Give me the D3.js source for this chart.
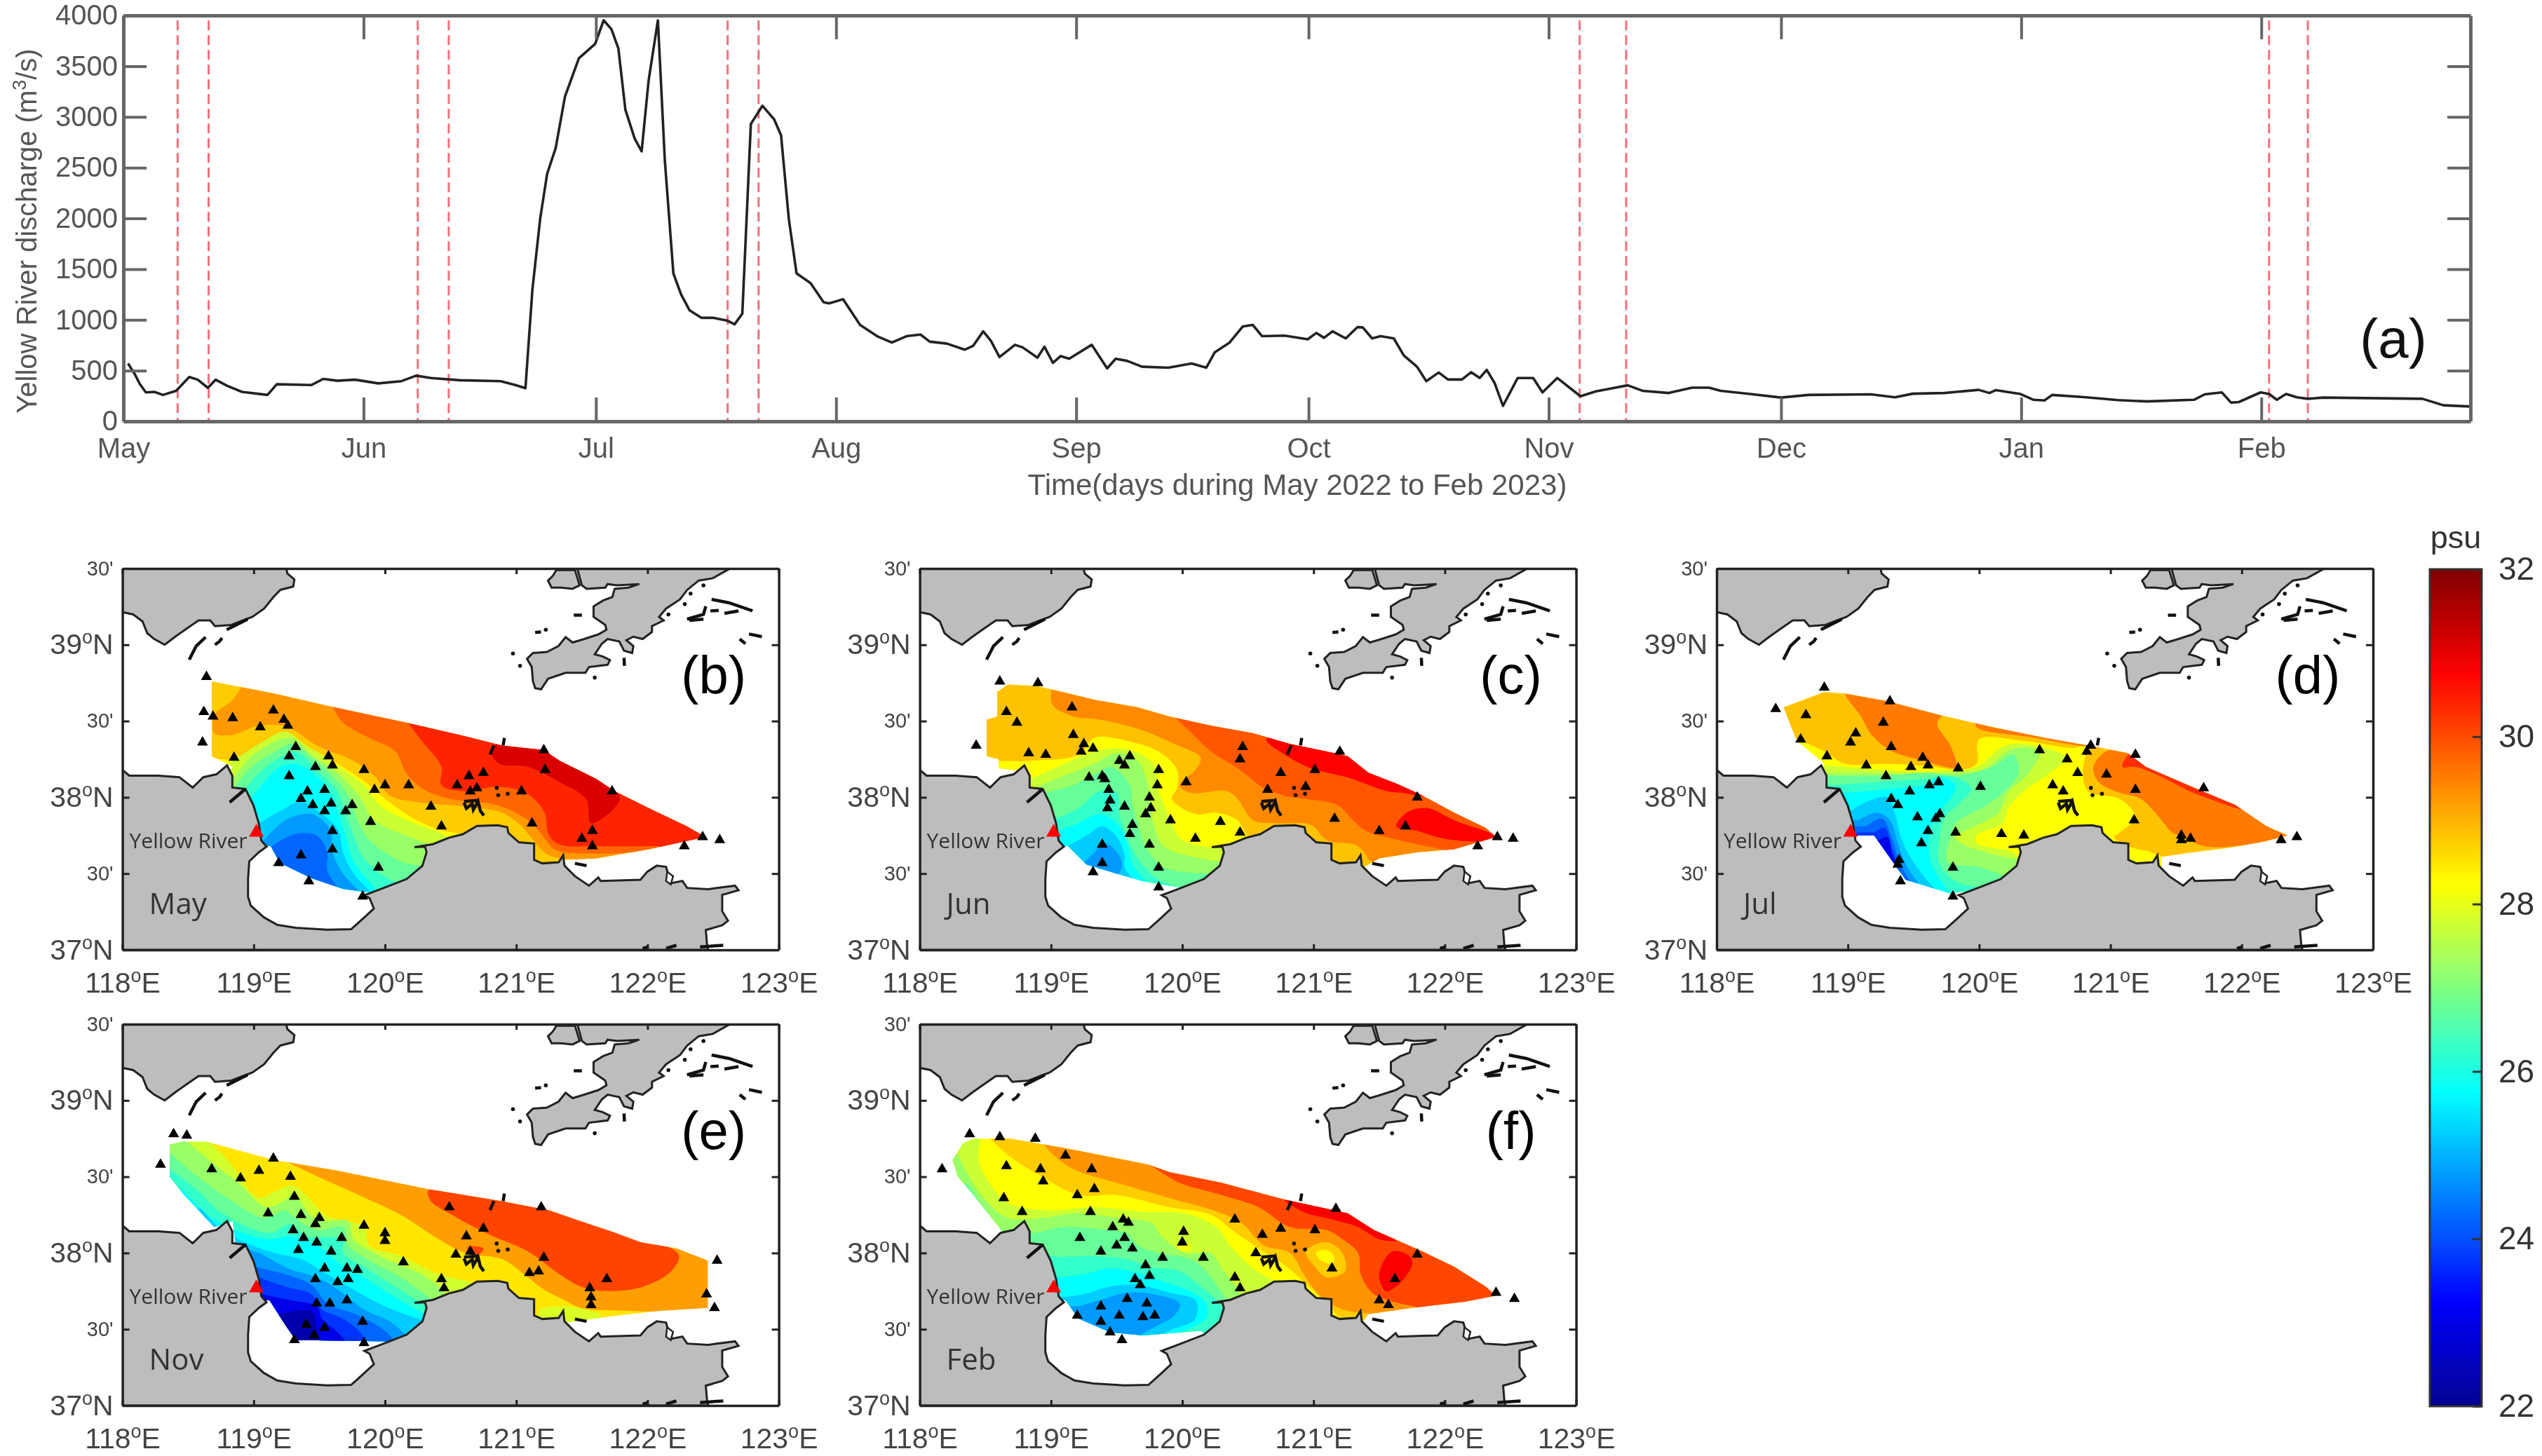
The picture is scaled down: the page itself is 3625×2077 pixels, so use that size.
<!DOCTYPE html>
<html>
<head>
<meta charset="utf-8">
<script src="https://d3js.org/d3.v7.min.js"></script>
<style>
  html, body { margin: 0; padding: 0; background: #fff; }
  text { font-family: "Liberation Sans", Arial, sans-serif; }
</style>
</head>
<body>
<script>
// river discharge: days since 1 May 2022, m3/s
var dischargeDay = [0.6,1.5,2.1,2.9,4,5.1,6.8,8.5,9.6,10.9,11.9,13.4,15.3,18.6,19.8,24.3,25.8,27.6,29.9,32.9,35.9,37.8,39.7,43.4,48.7,50.6,51.9,52.8,53.8,54.7,55.8,57,58.8,60.9,62,63,63.9,64.8,66,66.9,67.8,69,69.9,71,72,73.1,74.6,76.1,78,78.9,79.9,81,82.5,84,84.9,85.9,86.9,88.7,90.4,91.1,92.9,95.1,97.3,99.2,101.1,102.9,104.1,106.3,108.6,109.7,111,112,113.1,115.1,116.1,118,118.9,120,121,122.1,125,127,128.1,129.6,131.5,134.9,137.9,139.8,140.9,142.8,144.5,145.8,147,149.9,152.9,154,155,156.1,157.8,159.3,160,161.2,162.3,164,165.3,167,168.2,169.8,171,172.8,174,175.1,176,177,178.1,180,182,183.2,185.1,188.1,190.1,194.2,196.1,199.5,202.5,204.7,206.2,210,214,217.5,225.6,228.7,231,235.1,239.5,240.9,241.7,244.9,246.6,248,249,253.4,257.5,261.2,267.3,268.7,270.9,272.1,273.1,275.9,277,278,279.2,280.6,282,284,296.8,299.5,303];
var dischargeValue = [570,460,370,285,290,260,300,437,410,330,410,350,290,260,365,358,418,400,410,374,396,450,427,405,396,358,326,1298,1995,2439,2692,3199,3578,3720,3952,3864,3674,3072,2787,2660,3357,3952,2565,1457,1250,1093,1020,1020,991,956,1061,2930,3110,2977,2819,1995,1457,1362,1172,1162,1203,950,839,776,839,855,785,766,706,744,887,792,633,754,728,627,735,576,643,617,754,522,617,595,538,529,570,529,681,776,934,950,839,845,808,871,823,887,817,928,925,817,839,817,649,538,396,481,412,412,484,427,507,380,152,427,427,285,427,247,295,355,301,279,332,332,301,269,234,260,266,237,272,279,310,279,307,269,212,206,260,237,209,196,212,266,285,184,190,285,269,212,269,237,222,234,222,158,146];
var surveyDays = ["2022-05-08","2022-05-12","2022-06-08","2022-06-12","2022-07-18","2022-07-22","2022-11-05","2022-11-11","2023-02-02","2023-02-07"];
var dischargeTicks = [0,500,1000,1500,2000,2500,3000,3500,4000];

var lonTicks = [118,119,120,121,122,123];
var latTicks = [37,37.5,38,38.5,39,39.5];
var salinityTicks = [22,24,26,28,30,32];

// coast, lon/lat
var landNorth = [[119.248,39.5],[119.257,39.467],[119.31,39.428],[119.301,39.382],[119.203,39.36],[119.15,39.313],[119.079,39.237],[118.99,39.183],[118.918,39.16],[118.829,39.13],[118.705,39.122],[118.669,39.16],[118.58,39.16],[118.491,39.107],[118.402,39.053],[118.322,39],[118.242,39.038],[118.189,39.076],[118.153,39.153],[118.082,39.199],[118,39.214],[118,39.5]];
var landLiaodong = [[121.465,39.5],[121.5,39.39],[121.536,39.367],[121.678,39.375],[121.696,39.398],[121.767,39.39],[121.937,39.398],[121.856,39.375],[121.75,39.367],[121.732,39.313],[121.661,39.29],[121.589,39.252],[121.589,39.183],[121.678,39.13],[121.687,39.099],[121.625,39.068],[121.518,39.038],[121.429,39.015],[121.376,39.05],[121.322,38.992],[121.233,38.953],[121.127,38.946],[121.082,38.908],[121.118,38.854],[121.127,38.762],[121.144,38.716],[121.189,38.708],[121.242,38.777],[121.376,38.816],[121.527,38.816],[121.554,38.854],[121.696,38.869],[121.714,38.9],[121.661,38.923],[121.598,38.938],[121.652,39.007],[121.696,39.038],[121.785,39.022],[121.821,38.961],[121.883,38.946],[121.892,38.992],[121.839,39.03],[121.892,39.053],[121.963,39.038],[122.034,39.084],[122.034,39.122],[122.123,39.16],[122.088,39.183],[122.141,39.237],[122.248,39.298],[122.301,39.359],[122.39,39.421],[122.497,39.436],[122.622,39.497],[122.65,39.5]];
var landBay = [[121.242,39.421],[121.278,39.451],[121.305,39.49],[121.447,39.49],[121.483,39.39],[121.429,39.367],[121.34,39.375],[121.269,39.375]];
var landSouth = [[118,38.18],[118.052,38.142],[118.274,38.142],[118.434,38.132],[118.535,38.064],[118.616,38.132],[118.716,38.151],[118.797,38.209],[118.837,38.142],[118.837,38.064],[118.937,38.055],[118.998,37.948],[119.038,37.832],[119.058,37.716],[119.098,37.677],[119.038,37.639],[118.966,37.581],[118.957,37.464],[118.957,37.348],[118.978,37.29],[119.078,37.213],[119.179,37.164],[119.32,37.145],[119.561,37.132],[119.742,37.135],[119.843,37.213],[119.915,37.271],[119.883,37.339],[119.843,37.358],[119.963,37.397],[120.164,37.464],[120.285,37.551],[120.317,37.639],[120.305,37.677],[120.225,37.673],[120.366,37.693],[120.486,37.735],[120.593,37.758],[120.7,37.812],[120.86,37.817],[120.931,37.804],[120.94,37.766],[121.02,37.705],[121.136,37.697],[121.136,37.59],[121.198,37.567],[121.323,37.574],[121.358,37.62],[121.367,37.552],[121.447,37.483],[121.554,37.421],[121.625,37.475],[121.643,37.452],[121.946,37.46],[121.999,37.513],[122.07,37.552],[122.141,37.544],[122.177,37.437],[122.266,37.452],[122.302,37.406],[122.462,37.398],[122.667,37.421],[122.693,37.391],[122.569,37.36],[122.569,37.253],[122.613,37.191],[122.569,37.161],[122.444,37.13],[122.453,37.038],[122.462,37],[118,37]];
var landLagoon = [[122.15,37.513],[122.195,37.483],[122.177,37.429],[122.141,37.452]];
var riverChannel = [[118.937,38.055],[118.817,37.967]];
var riverMouth = [119.02,37.77];
var islets = [
  [[118.634,39.05],[118.562,38.992],[118.509,38.903]],
  [[118.758,39.045],[118.74,39.022],[118.705,39]],
  [[118.794,39.099],[118.954,39.168]],
  [[122.488,39.298],[122.622,39.275],[122.8,39.222]],
  [[122.301,39.168],[122.426,39.199],[122.444,39.252]],
  [[122.319,39.16],[122.426,39.168]],
  [[122.479,39.222],[122.542,39.225]],
  [[122.586,39.206],[122.693,39.222]],
  [[122.702,39.038],[122.746,39.007]],
  [[122.773,39.071],[122.871,39.053]],
  [[121.821,38.915],[121.824,38.862]],
  [[121.438,39.194],[121.5,39.194]],
  [[121.144,39.081],[121.189,39.084]],
  [[120.602,37.973],[120.709,37.98]],
  [[120.602,37.965],[120.62,37.927],[120.664,37.958],[120.673,37.919],[120.709,37.973],[120.726,37.912],[120.753,37.881]],
  [[120.91,38.39],[120.9,38.34]],
  [[120.83,38.34],[120.8,38.28]],
  [[121.447,37.567],[121.536,37.552]],
  [[121.963,37.01],[122.008,37.02]],
  [[122.141,37.01],[122.22,37.03]],
  [[122.4,37.02],[122.577,37.03]]
];
var isletDots = [[121.225,39.099],[120.975,38.943],[121.029,38.862],[121.598,38.785],[122.284,39.267],[122.159,39.199],[122.328,39.336],[122.426,39.39],[120.851,38.062],[120.863,38.014],[120.935,38.023]];

// survey extents, lon/lat
var mayDomain = [[118.68,38.76],[119.16,38.68],[119.56,38.6],[120.16,38.49],[120.61,38.4],[120.89,38.34],[121.21,38.31],[121.33,38.24],[121.61,38.12],[121.75,38.04],[122.03,37.92],[122.3,37.81],[122.44,37.74],[122.01,37.66],[121.61,37.6],[121.37,37.59],[121.33,37.54],[121.09,37.54],[120.28,37.37],[119.84,37.38],[119.68,37.4],[119.44,37.47],[119.2,37.57],[119.13,37.68],[118.96,37.68],[118.8,38.14],[118.84,38.2],[118.68,38.27]];
var junDomain = [[118.59,38.69],[118.67,38.74],[118.89,38.73],[119.09,38.69],[119.33,38.64],[119.66,38.59],[119.9,38.53],[120.22,38.47],[120.54,38.42],[120.82,38.35],[121.1,38.3],[121.26,38.27],[121.42,38.16],[121.63,38.09],[121.81,38.02],[122.07,37.9],[122.31,37.8],[122.39,37.74],[122.07,37.66],[121.79,37.64],[121.5,37.6],[121.34,37.52],[121.1,37.52],[120.3,37.37],[119.9,37.42],[119.7,37.45],[119.5,37.5],[119.27,37.56],[119.13,37.68],[118.97,37.68],[118.79,38.14],[118.77,38.17],[118.6,38.19],[118.6,38.25],[118.51,38.27],[118.51,38.51],[118.59,38.53]];
var julDomain = [[118.51,38.59],[118.82,38.69],[118.98,38.68],[119.3,38.63],[119.7,38.54],[120.1,38.46],[120.5,38.39],[120.83,38.34],[121.13,38.29],[121.27,38.2],[121.59,38.08],[121.95,37.95],[122.19,37.81],[122.35,37.75],[122.17,37.71],[121.91,37.67],[121.63,37.64],[121.39,37.61],[121.39,37.52],[121.23,37.52],[120.42,37.36],[119.94,37.39],[119.78,37.37],[119.44,37.46],[119.34,37.58],[119.2,37.75],[119.02,37.75],[118.8,38.14],[118.82,38.22],[118.61,38.37]];
var novDomain = [[118.36,38.71],[118.45,38.73],[118.64,38.73],[119.16,38.61],[119.64,38.54],[120.32,38.42],[120.89,38.34],[121.25,38.28],[121.45,38.22],[121.73,38.14],[121.95,38.07],[122.22,38.03],[122.46,37.95],[122.46,37.64],[122.09,37.62],[121.69,37.58],[121.33,37.54],[121.25,37.46],[120.28,37.4],[120,37.42],[119.32,37.43],[119.24,37.53],[119.12,37.69],[118.96,37.69],[118.86,38.07],[118.84,38.21],[118.7,38.17],[118.58,38.28],[118.47,38.38],[118.36,38.5]];
var febDomain = [[118.33,38.72],[118.41,38.75],[118.69,38.75],[119.09,38.69],[119.33,38.65],[119.74,38.58],[119.9,38.53],[120.3,38.46],[120.78,38.35],[121.1,38.29],[121.26,38.26],[121.46,38.15],[121.83,38.01],[122.07,37.91],[122.31,37.78],[122.39,37.72],[122.15,37.68],[121.75,37.64],[121.42,37.6],[121.34,37.51],[121.1,37.51],[120.3,37.4],[120.14,37.49],[119.7,37.46],[119.45,37.48],[119.21,37.57],[119.11,37.69],[118.97,37.69],[118.81,38.15],[118.63,38.14],[118.41,38.38],[118.29,38.5],[118.25,38.61]];

// salinity bands: [psu, side, contour]. "l" fills the fresh side, "h" the salty side, "o" a closed patch
var mayBands = [
  [27.75,"l",[[118.8,38.2],[118.88,38.28],[119.08,38.39],[119.24,38.45],[119.48,38.3],[119.68,38.18],[119.84,38.08],[119.96,37.95],[120.12,37.87],[120.41,37.77],[120.49,37.74]]],
  [27.25,"l",[[118.86,38.14],[119,38.28],[119.28,38.39],[119.44,38.28],[119.64,38.16],[119.8,38.01],[119.92,37.85],[120.16,37.75],[120.35,37.69]]],
  [26.75,"l",[[118.86,38.07],[118.96,38.18],[119.16,38.3],[119.3,38.35],[119.44,38.26],[119.6,38.14],[119.72,38.01],[119.8,37.83],[119.88,37.72],[120.12,37.58],[120.28,37.55]]],
  [26.25,"l",[[118.92,38.03],[119.04,38.16],[119.2,38.26],[119.32,38.3],[119.48,38.18],[119.64,38.04],[119.68,37.95],[119.76,37.75],[119.84,37.6],[120.04,37.46],[120.16,37.43]]],
  [25.75,"l",[[118.96,37.97],[119.08,38.1],[119.2,38.2],[119.32,38.22],[119.48,38.14],[119.6,38.01],[119.64,37.91],[119.7,37.75],[119.76,37.58],[119.92,37.41]]],
  [25.25,"l",[[119.04,37.83],[119.2,37.91],[119.36,37.97],[119.52,37.89],[119.64,37.79],[119.68,37.64],[119.76,37.5],[119.88,37.39]]],
  [24.75,"l",[[119.08,37.72],[119.24,37.85],[119.44,37.89],[119.58,37.79],[119.6,37.64],[119.68,37.5],[119.8,37.39]]],
  [24.25,"l",[[119.14,37.68],[119.32,37.76],[119.48,37.75],[119.56,37.64],[119.56,37.52],[119.64,37.41]]],
  [28.75,"h",[[118.68,38.26],[118.84,38.25],[119.04,38.35],[119.24,38.43],[119.4,38.34],[119.64,38.22],[119.88,38.08],[120,37.99],[120.24,37.85],[120.45,37.78],[120.61,37.76]]],
  [29.25,"h",[[118.94,38.78],[118.84,38.64],[118.7,38.54],[118.7,38.42],[118.84,38.41],[119.04,38.47],[119.26,38.46],[119.48,38.34],[119.76,38.24],[119.92,38.14],[120.04,38.01],[120.24,37.97],[120.61,37.94],[120.89,37.9],[121.03,37.82],[121.11,37.74],[121.25,37.62],[121.65,37.58]]],
  [29.75,"h",[[119.58,38.63],[119.68,38.49],[119.88,38.39],[120.08,38.3],[120.16,38.16],[120.28,38.06],[120.49,37.99],[120.85,37.95],[121.09,37.85],[121.21,37.74],[121.29,37.66],[121.61,37.63],[122.05,37.65]]],
  [30.4,"h",[[120.16,38.51],[120.28,38.37],[120.43,38.2],[120.43,38.08],[120.61,38.04],[120.85,38.07],[121.07,38.03],[121.21,37.91],[121.25,37.75],[121.33,37.69],[121.61,37.68],[122.09,37.68]]],
  [31.1,"o",[[120.81,38.3],[120.87,38.22],[121.09,38.2],[121.33,38.1],[121.53,37.99],[121.57,37.83],[121.79,37.99],[121.61,38.14],[121.33,38.26],[121.17,38.34],[120.89,38.37]]]
];
var junBands = [
  [27.75,"l",[[118.87,38.13],[119.05,38.2],[119.37,38.31],[119.6,38.31],[119.78,38.22],[119.82,38.04],[119.86,37.95],[119.92,37.83],[120,37.72],[120.26,37.67],[120.34,37.68]]],
  [27.25,"l",[[118.87,38.06],[119.09,38.14],[119.33,38.22],[119.5,38.29],[119.66,38.24],[119.74,38.08],[119.76,37.95],[119.78,37.83],[119.86,37.68],[120.14,37.6],[120.3,37.58]]],
  [26.75,"l",[[118.95,38.03],[119.17,38.08],[119.35,38.16],[119.46,38.2],[119.6,38.08],[119.62,37.95],[119.66,37.83],[119.72,37.68],[119.86,37.54],[120.22,37.5]]],
  [26.25,"l",[[119.01,37.85],[119.21,37.93],[119.37,38.04],[119.5,38.03],[119.52,37.89],[119.58,37.74],[119.66,37.6],[119.82,37.46],[120,37.41]]],
  [25.75,"l",[[119.05,37.78],[119.21,37.83],[119.37,37.89],[119.5,37.83],[119.58,37.7],[119.62,37.56],[119.76,37.42]]],
  [25.25,"l",[[119.13,37.68],[119.27,37.75],[119.39,37.81],[119.5,37.74],[119.56,37.62],[119.56,37.54],[119.66,37.44]]],
  [24.75,"l",[[119.25,37.57],[119.33,37.64],[119.41,37.7],[119.52,37.62],[119.54,37.54],[119.5,37.48]]],
  [28.85,"h",[[118.45,38.25],[118.6,38.24],[118.85,38.24],[119.21,38.28],[119.33,38.39],[119.58,38.37],[119.82,38.3],[119.96,38.18],[119.96,38.06],[119.92,37.99],[120.1,37.89],[120.26,37.9],[120.42,37.85],[120.5,37.75],[120.62,37.75]]],
  [29.4,"h",[[119.01,38.74],[119.01,38.61],[119.17,38.53],[119.37,38.51],[119.66,38.45],[119.94,38.35],[120.14,38.26],[120.1,38.18],[119.98,38.08],[120.06,38.03],[120.34,38.04],[120.42,37.99],[120.54,37.85],[120.74,37.83],[120.98,37.82],[121.1,37.72],[121.34,37.68],[121.42,37.59]]],
  [29.9,"h",[[119.9,38.56],[120.06,38.43],[120.22,38.3],[120.44,38.18],[120.62,38.06],[120.78,38.01],[120.94,37.99],[121.18,37.95],[121.3,37.85],[121.4,37.78],[121.6,37.73],[122.03,37.65]]],
  [30.75,"o",[[120.64,38.38],[120.78,38.28],[120.98,38.19],[121.26,38.13],[121.56,38.04],[121.67,38.03],[121.87,38.01],[121.5,38.22],[121.26,38.35],[120.9,38.43]]],
  [30.75,"o",[[121.63,37.81],[121.71,37.9],[121.87,37.93],[122.07,37.85],[122.43,37.73],[122.27,37.71],[121.99,37.73],[121.79,37.78]]]
];
var julBands = [
  [27.75,"l",[[118.82,38.21],[119.1,38.19],[119.46,38.17],[119.78,38.18],[119.98,38.2],[120.2,38.34],[120.42,38.34],[120.66,38.26],[120.54,38.16],[120.34,38.04],[120.22,37.93],[120.18,37.83],[119.98,37.75],[119.98,37.7],[120.26,37.64],[120.32,37.59]]],
  [27.25,"l",[[118.84,38.16],[119.14,38.16],[119.46,38.15],[119.78,38.16],[120.02,38.18],[120.26,38.32],[120.46,38.3],[120.38,38.16],[120.22,38.03],[120.14,37.89],[119.94,37.8],[119.82,37.74],[119.86,37.7],[120.14,37.62],[120.32,37.59]]],
  [26.75,"l",[[118.86,38.14],[119.22,38.14],[119.62,38.16],[119.82,38.14],[120.1,38.2],[120.26,38.28],[120.3,38.16],[120.18,38.03],[120.06,37.95],[119.82,37.83],[119.78,37.74],[119.76,37.58],[120.02,37.54],[120.2,37.48]]],
  [26.25,"l",[[118.88,38.08],[119.22,38.1],[119.58,38.12],[119.78,38.14],[119.94,38.06],[119.86,37.97],[119.74,37.87],[119.7,37.75],[119.7,37.56],[119.82,37.45],[119.98,37.41]]],
  [25.75,"l",[[118.98,38.03],[119.14,38.04],[119.38,38.06],[119.58,38.08],[119.7,38.13],[119.82,38.08],[119.78,37.99],[119.68,37.89],[119.62,37.75],[119.64,37.56],[119.78,37.37]]],
  [25.25,"l",[[119.02,37.91],[119.14,37.97],[119.3,38],[119.36,37.89],[119.4,37.75],[119.48,37.6],[119.62,37.44],[119.7,37.37]]],
  [24.75,"l",[[119.08,37.85],[119.22,37.9],[119.32,37.85],[119.38,37.7],[119.44,37.56],[119.58,37.39]]],
  [24.25,"l",[[119.14,37.81],[119.26,37.86],[119.34,37.72],[119.4,37.56],[119.5,37.42]]],
  [23.75,"l",[[119.2,37.77],[119.28,37.8],[119.34,37.66],[119.4,37.5],[119.42,37.45]]],
  [23,"l",[[119.24,37.72],[119.3,37.74],[119.34,37.62],[119.38,37.53]]],
  [28.85,"o",[[118.49,38.59],[118.57,38.41],[118.7,38.35],[118.82,38.3],[118.98,38.22],[119.3,38.22],[119.66,38.2],[119.86,38.18],[119.98,38.22],[120,38.38],[120.34,38.37],[120.78,38.34],[120.78,38.49],[119.7,38.61],[118.98,38.74],[118.74,38.72]]],
  [28.85,"h",[[120.85,38.37],[120.79,38.18],[120.83,38.04],[121.07,37.99],[121.19,37.87],[121.07,37.77],[121.03,37.74],[121.13,37.68],[121.31,37.64],[121.47,37.58]]],
  [29.55,"o",[[118.98,38.69],[119.1,38.53],[119.18,38.41],[119.34,38.3],[119.58,38.24],[119.82,38.2],[119.78,38.34],[119.68,38.48],[119.72,38.56],[119.22,38.67]]],
  [29.55,"o",[[120.99,38.31],[120.87,38.2],[120.91,38.1],[121.07,38.03],[121.23,37.99],[121.35,37.89],[121.47,37.77],[121.55,37.74],[121.71,37.68],[121.95,37.68],[122.39,37.75],[122.03,37.99],[121.43,38.24]]],
  [29.55,"o",[[119.98,38.51],[120.83,38.38],[121.13,38.31],[120.83,38.33],[120.42,38.39],[119.98,38.46]]],
  [30.3,"o",[[121.09,38.2],[121.17,38.3],[121.35,38.23],[121.71,38.07],[122.01,37.92],[121.63,38.03],[121.35,38.15],[121.19,38.2]]]
];
var novBands = [
  [27.8,"l",[[118.66,38.73],[118.8,38.61],[119.04,38.36],[119.16,38.4],[119.3,38.44],[119.48,38.3],[119.56,38.24],[119.84,38.17],[119.88,38.05],[120.12,37.98],[120.41,37.86],[120.65,37.81],[120.77,37.78]]],
  [27.25,"l",[[118.47,38.75],[118.66,38.61],[118.88,38.46],[119.1,38.3],[119.26,38.36],[119.3,38.4],[119.42,38.26],[119.52,38.21],[119.72,38.21],[119.76,38.09],[119.96,37.98],[120.28,37.86],[120.45,37.75]]],
  [26.75,"l",[[118.37,38.65],[118.56,38.51],[118.8,38.36],[119.08,38.23],[119.24,38.28],[119.3,38.24],[119.48,38.15],[119.68,38.17],[119.72,38.05],[119.88,37.95],[120.12,37.84],[120.35,37.7]]],
  [26.25,"l",[[118.36,38.55],[118.56,38.42],[118.76,38.26],[119.12,38.13],[119.28,38.19],[119.4,38.11],[119.68,38.09],[119.68,38],[119.84,37.91],[120.04,37.8],[120.32,37.65]]],
  [25.75,"l",[[118.45,38.42],[118.68,38.23],[118.86,38.15],[119.12,38.09],[119.28,38.11],[119.52,38.03],[119.64,37.94],[119.84,37.84],[120.04,37.73],[120.3,37.6]]],
  [25.25,"l",[[118.6,38.29],[118.72,38.18],[118.88,38.09],[119.16,38],[119.36,37.96],[119.56,37.86],[119.76,37.76],[120,37.65],[120.28,37.56]]],
  [24.75,"l",[[118.86,38.05],[119.04,38],[119.26,37.9],[119.48,37.84],[119.64,37.76],[119.84,37.63],[120.04,37.55],[120.16,37.46]]],
  [24.25,"l",[[119,37.91],[119.24,37.86],[119.44,37.79],[119.56,37.67],[119.8,37.59],[120,37.49],[120.08,37.42]]],
  [23.75,"l",[[119.04,37.84],[119.24,37.78],[119.44,37.73],[119.52,37.63],[119.68,37.57],[119.8,37.49],[119.88,37.4]]],
  [23,"l",[[119.06,37.73],[119.28,37.69],[119.48,37.65],[119.52,37.57],[119.64,37.48],[119.72,37.4]]],
  [22.3,"l",[[119.2,37.6],[119.44,37.62],[119.48,37.51],[119.52,37.4]]],
  [27.9,"o",[[121.17,37.62],[121.37,37.65],[121.65,37.59],[121.49,37.53],[121.23,37.53]]],
  [29.2,"h",[[119.16,38.64],[119.44,38.52],[119.8,38.38],[120.12,38.25],[120.41,38.09],[120.61,38],[120.89,37.96],[121.09,37.84],[121.21,37.76],[121.37,37.69],[121.49,37.64],[121.85,37.62],[122.25,37.61]]],
  [30.08,"o",[[120.33,38.41],[120.35,38.34],[120.49,38.26],[120.77,38.13],[121.09,38.01],[121.33,37.86],[121.49,37.78],[121.69,37.75],[121.97,37.78],[122.18,37.88],[122.24,37.98],[122.16,38.04],[121.89,38.1],[121.49,38.23],[121.25,38.3],[120.89,38.37]]],
  [30.08,"o",[[120.63,38.04],[120.75,38.03],[120.73,38],[120.65,37.99]]]
];
var febBands = [
  [27.75,"l",[[118.47,38.77],[118.45,38.61],[118.53,38.46],[118.69,38.32],[119.01,38.28],[119.33,38.3],[119.7,38.27],[120.02,38.26],[120.26,38.17],[120.38,38.03],[120.54,37.9],[120.72,37.81]]],
  [27.25,"l",[[118.29,38.65],[118.37,38.51],[118.49,38.36],[118.67,38.23],[118.93,38.23],[119.21,38.26],[119.5,38.23],[119.78,38.19],[119.82,38.13],[120.02,38],[120.22,38],[120.3,37.9],[120.44,37.75]]],
  [26.75,"l",[[118.37,38.45],[118.49,38.3],[118.63,38.15],[118.85,38.13],[119.09,38.17],[119.45,38.15],[119.58,38.13],[119.66,38.05],[119.82,38],[120.06,37.96],[120.18,37.88],[120.3,37.74],[120.34,37.69]]],
  [26.25,"l",[[118.89,38.03],[119.01,37.98],[119.29,37.98],[119.58,37.96],[119.74,37.91],[119.98,37.88],[120.14,37.78],[120.26,37.69],[120.32,37.62]]],
  [25.75,"l",[[119.05,37.84],[119.25,37.86],[119.45,37.9],[119.66,37.87],[119.86,37.81],[120.06,37.75],[120.18,37.67],[120.18,37.57],[119.98,37.48]]],
  [25.25,"l",[[119.09,37.71],[119.25,37.73],[119.45,37.78],[119.66,37.79],[119.9,37.74],[120.1,37.69],[120.1,37.57],[119.9,37.49],[119.82,37.45]]],
  [24.75,"l",[[119.21,37.65],[119.37,37.69],[119.58,37.74],[119.78,37.73],[119.98,37.67],[119.94,37.59],[119.78,37.51],[119.66,37.45]]],
  [28.1,"o",[[119.98,38.07],[120.08,38.05],[120.04,38.01],[119.96,38.03]]],
  [28.75,"h",[[118.51,38.77],[118.69,38.63],[118.93,38.5],[119.21,38.38],[119.5,38.38],[119.9,38.3],[120.22,38.25],[120.38,38.15],[120.58,38.03],[120.78,37.92],[120.94,37.8],[121.1,37.67],[121.18,37.59]]],
  [29.3,"h",[[118.89,38.77],[119.01,38.65],[119.17,38.55],[119.5,38.46],[119.9,38.36],[120.3,38.26],[120.46,38.19],[120.62,38.05],[120.82,38],[120.94,37.84],[121.06,37.71],[121.22,37.63],[121.46,37.6]]],
  [28.75,"o",[[120.94,38.01],[121.1,38.07],[121.22,38],[121.24,37.88],[121.1,37.84],[121,37.92]]],
  [28.25,"o",[[121.02,38],[121.1,38.02],[121.16,37.97],[121.14,37.93],[121.06,37.95]]],
  [30.05,"h",[[119.7,38.61],[119.98,38.46],[120.3,38.38],[120.58,38.3],[120.82,38.17],[121.1,38.15],[121.22,38.09],[121.34,38],[121.36,37.86],[121.46,37.73],[121.77,37.65]]],
  [30.8,"o",[[120.78,38.35],[120.92,38.27],[121.14,38.22],[121.34,38.17],[121.5,38.09],[121.63,38.08],[121.46,38.17],[121.26,38.27],[121.1,38.31]]],
  [30.8,"o",[[121.5,37.84],[121.52,37.92],[121.6,38.01],[121.73,37.98],[121.75,37.92],[121.63,37.78],[121.55,37.75]]],
  [30.8,"o",[[122.11,37.67],[122.35,37.7],[122.45,37.71],[122.31,37.67]]]
];

// sampling stations, lon/lat
var mayStations = [[118.64,38.79],[118.62,38.56],[118.69,38.53],[118.84,38.52],[119.05,38.46],[119.15,38.57],[119.23,38.51],[119.26,38.47],[118.61,38.36],[118.85,38.26],[119.32,38.33],[119.27,38.27],[119.57,38.27],[119.47,38.2],[119.6,38.21],[119.84,38.18],[119.27,38.14],[119.41,38.04],[119.54,38.05],[119.92,38.05],[120,38.08],[120.18,38.08],[120.55,38.08],[120.64,38.14],[120.75,38.16],[120.65,38.04],[120.7,38.06],[119.36,37.99],[119.45,37.95],[119.59,37.96],[119.75,37.95],[119.54,37.91],[119.7,37.91],[119.89,37.84],[120.35,37.94],[120.43,37.81],[119.6,37.78],[119.6,37.66],[119.36,37.62],[119.19,37.57],[119.95,37.54],[119.42,37.45],[119.83,37.35],[121.21,38.31],[121.22,38.18],[121.04,38.04],[121.12,37.83],[121.58,37.78],[121.5,37.73],[121.58,37.68],[121.73,38.04],[122.42,37.74],[122.55,37.72],[122.28,37.68]];
var junStations = [[118.61,38.76],[118.9,38.75],[119.16,38.59],[118.66,38.56],[118.74,38.49],[118.43,38.34],[119.17,38.41],[119.25,38.35],[119.32,38.32],[119.23,38.3],[118.83,38.29],[118.96,38.28],[119.6,38.27],[119.52,38.24],[119.56,38.21],[119.82,38.18],[119.29,38.13],[119.39,38.14],[119.41,38.12],[119.44,38.05],[119.45,37.98],[119.43,37.93],[119.56,37.94],[119.75,38],[119.81,38.08],[119.76,37.93],[119.72,37.89],[119.91,37.85],[119.62,37.82],[119.6,37.76],[120.1,37.73],[120.29,37.84],[120.44,37.77],[119.75,37.69],[119.39,37.69],[119.39,37.57],[119.32,37.51],[119.82,37.54],[119.82,37.41],[120.46,38.33],[120.44,38.25],[120.75,38.16],[121.01,38.18],[120.94,38.07],[120.65,38.05],[120.03,38.1],[121.2,38.3],[121.16,37.86],[121.5,37.78],[121.7,37.81],[121.79,38],[122.25,37.68],[122.4,37.74],[122.52,37.73]];
var julStations = [[118.82,38.72],[118.45,38.58],[119.32,38.63],[118.68,38.54],[119.27,38.49],[119.06,38.42],[119.02,38.36],[118.64,38.38],[119.33,38.33],[118.84,38.27],[119.14,38.21],[119.57,38.26],[119.48,38.2],[119.61,38.21],[119.84,38.19],[119.29,38.14],[119.69,38.1],[119.62,38.08],[119.47,38.04],[120.01,38.07],[119.33,37.99],[119.38,37.95],[119.53,37.87],[119.67,37.86],[119.7,37.89],[119.61,37.78],[119.56,37.7],[119.82,37.77],[120.17,37.76],[120.34,37.75],[119.39,37.59],[119.38,37.56],[119.8,37.54],[119.4,37.45],[120.46,38.31],[120.67,38.25],[120.75,38.16],[120.56,38.08],[120.64,38.04],[120.97,38.15],[121.19,38.05],[121.19,38.28],[120.82,38.3],[120.85,38.34],[121.18,37.85],[121.54,37.75],[121.54,37.72],[121.61,37.73],[121.71,38.06],[122.3,37.72],[122.42,37.74],[119.8,37.35]];
var novStations = [[118.39,38.78],[118.49,38.77],[118.29,38.58],[118.68,38.55],[118.9,38.49],[119.04,38.54],[119.15,38.62],[119.28,38.5],[119.31,38.37],[119.11,38.26],[119.36,38.25],[119.5,38.23],[119.47,38.19],[119.3,38.15],[119.84,38.18],[120,38.13],[120,38.08],[119.38,38.1],[119.48,38.07],[119.67,38.1],[119.34,38.02],[119.59,38.01],[120.14,37.94],[119.54,37.9],[119.71,37.9],[119.79,37.89],[119.47,37.83],[119.64,37.81],[119.72,37.83],[120.43,37.83],[120.45,37.77],[120.49,38.3],[120.62,38.11],[120.75,38.16],[120.65,38.01],[120.54,37.99],[121.19,38.3],[121.21,37.97],[121.1,37.87],[121.17,37.88],[121.69,37.83],[121.56,37.77],[121.57,37.71],[121.57,37.66],[122.45,37.73],[122.51,37.64],[122.53,37.95],[119.48,37.67],[119.58,37.67],[119.71,37.69],[119.83,37.55],[119.4,37.53],[119.54,37.51],[119.31,37.43],[119.46,37.46],[119.84,37.41]];
var febStations = [[118.38,38.78],[118.61,38.76],[118.88,38.75],[119.11,38.64],[119.31,38.55],[118.66,38.57],[118.92,38.55],[118.94,38.47],[118.17,38.55],[119.33,38.42],[119.2,38.38],[118.64,38.36],[118.78,38.27],[119.3,38.27],[120.4,38.22],[119.55,38.22],[119.59,38.2],[119.47,38.17],[120.01,38.14],[120,38.07],[119.22,38.1],[119.56,38.1],[119.5,38.05],[119.62,38.03],[119.38,38.01],[119.85,37.97],[120.16,37.97],[119.72,37.92],[119.75,37.85],[119.64,37.83],[119.68,37.79],[120.4,37.84],[120.44,37.77],[120.61,38.12],[120.75,38.16],[121.01,38.15],[121.17,38.29],[120.56,38],[121.14,37.9],[121.62,37.83],[121.79,37.99],[121.5,37.69],[121.57,37.66],[122.39,37.74],[122.53,37.7],[119.58,37.7],[119.73,37.67],[119.38,37.65],[119.2,37.59],[119.38,37.55],[119.52,37.59],[119.7,37.58],[119.79,37.59],[119.45,37.48],[119.54,37.43]];

var panels = [
  {tag:"(b)", month:"May", base:28.25, left:174.6, top:811, domain:mayDomain, bands:mayBands, stations:mayStations},
  {tag:"(c)", month:"Jun", base:28.25, left:1311.6, top:811, domain:junDomain, bands:junBands, stations:junStations},
  {tag:"(d)", month:"Jul", base:28.25, left:2448, top:811, domain:julDomain, bands:julBands, stations:julStations},
  {tag:"(e)", month:"Nov", base:28.5, left:174.6, top:1461, domain:novDomain, bands:novBands, stations:novStations},
  {tag:"(f)", month:"Feb", base:28.25, left:1311.6, top:1461, domain:febDomain, bands:febBands, stations:febStations}
];

var width = 3625, height = 2077;
var svg = d3.select("body").append("svg")
    .attr("width", width)
    .attr("height", height)
    .style("display", "block")
    .style("filter", "blur(0.6px)");

// jet, same stops as the colourbar
var jet = d3.scaleLinear()
    .domain([22,23.25,25.75,28.25,30.75,32])
    .range(["#00008f","#0000ff","#00ffff","#ffff00","#ff0000","#800000"])
    .clamp(true);

// ---- (a) discharge ----
var start = Date.UTC(2022,4,1), dayMs = 86400000;
var a = svg.append("g").attr("transform", "translate(176,22)");
var aw = 3347, ah = 579;
var x = d3.scaleUtc().domain([new Date(start), new Date(start + 303*dayMs)]).range([0, aw]);
var y = d3.scaleLinear().domain([0,4000]).range([ah,0]);
var months = d3.utcMonth.range(new Date(start), new Date(start + 303*dayMs));

a.selectAll("line.survey")
    .data(surveyDays)
  .enter().append("line")
    .attr("class", "survey")
    .attr("x1", function(d) { return x(new Date(d + "T00:00:00Z")); })
    .attr("x2", function(d) { return x(new Date(d + "T00:00:00Z")); })
    .attr("y1", y(3950))
    .attr("y2", ah)
    .attr("stroke", "#f2707c")
    .attr("stroke-width", 3)
    .attr("stroke-dasharray", "14,7");

a.append("path")
    .attr("d", d3.line()
      .x(function(d, i) { return x(new Date(start + d*dayMs)); })
      .y(function(d, i) { return y(dischargeValue[i]); })(dischargeDay))
    .attr("fill", "none")
    .attr("stroke", "#222")
    .attr("stroke-width", 3.6)
    .attr("stroke-linejoin", "round");

function styleAxis(g, size, color) {
  g.selectAll("text").attr("font-size", size).attr("fill", color);
  g.selectAll("line").attr("stroke", "#666").attr("stroke-width", 4);
  g.select(".domain").attr("stroke", "#666").attr("stroke-width", 5);
}
var mf = d3.utcFormat("%b");
a.append("g").attr("transform", "translate(0," + ah + ")")
    .call(d3.axisBottom(x).tickValues(months).tickFormat(mf).tickSizeInner(-34).tickSizeOuter(0).tickPadding(24))
    .call(styleAxis, 40, "#555");
a.append("g")
    .call(d3.axisTop(x).tickValues(months).tickFormat("").tickSizeInner(-34).tickSizeOuter(0))
    .call(styleAxis, 40, "#555");
a.append("g")
    .call(d3.axisLeft(y).tickValues(dischargeTicks).tickSizeInner(-33).tickSizeOuter(0).tickPadding(8).tickFormat(d3.format("d")))
    .call(styleAxis, 40, "#555");
a.append("g").attr("transform", "translate(" + aw + ",0)")
    .call(d3.axisRight(y).tickValues(dischargeTicks).tickFormat("").tickSizeInner(-33).tickSizeOuter(0))
    .call(styleAxis, 40, "#555");

var yl = a.append("text")
    .attr("transform", "translate(-124," + (ah/2 + 18) + ") rotate(-90)")
    .attr("text-anchor", "middle")
    .attr("font-size", 40)
    .attr("fill", "#555");
yl.append("tspan").text("Yellow River discharge (m");
yl.append("tspan").attr("baseline-shift", "super").attr("font-size", 27).text("3");
yl.append("tspan").text("/s)");

a.append("text")
    .attr("x", 1674).attr("y", 684)
    .attr("text-anchor", "middle")
    .attr("font-size", 42)
    .attr("fill", "#555")
    .text("Time(days during May 2022 to Feb 2023)");

a.append("text")
    .attr("x", 3237).attr("y", 488)
    .attr("text-anchor", "middle")
    .attr("font-size", 78)
    .attr("fill", "#111")
    .text("(a)");

// ---- salinity maps ----
var pw = 936, ph = 544;
var lon = d3.scaleLinear().domain([118,123]).range([0,pw]);
var lat = d3.scaleLinear().domain([37,39.5]).range([ph,0]);
var plain = d3.line().x(function(d) { return lon(d[0]); }).y(function(d) { return lat(d[1]); });
var smooth = d3.line().x(function(d) { return lon(d[0]); }).y(function(d) { return lat(d[1]); }).curve(d3.curveCatmullRom);
var smoothLoop = d3.line().x(function(d) { return lon(d[0]); }).y(function(d) { return lat(d[1]); }).curve(d3.curveCatmullRomClosed);

function pt(p) { return "L" + lon(p[0]) + "," + lat(p[1]); }

function bandPath(b) {
  var pts = b[2], first = pts[0], last = pts[pts.length - 1];
  if (b[1] == "o") return smoothLoop(pts);
  if (b[1] == "l") return smooth(pts) + pt([last[0],36.5]) + pt([117,36.5]) + pt([117,first[1]]) + "Z";
  return smooth(pts) + pt([123.5,36.5]) + pt([123.5,40]) + pt([first[0],40]) + "Z";
}

function degreeLabel(sel, letter) {
  sel.selectAll("text").each(function(d) {
    var t = d3.select(this).text(null);
    t.append("tspan").text(d);
    t.append("tspan").attr("baseline-shift", "super").attr("font-size", 27).text("o");
    t.append("tspan").text(letter);
  });
}

function drawPanel(p, i) {
  var g = svg.append("g").attr("transform", "translate(" + p.left + "," + p.top + ")");
  var clipId = "sea" + i, frameId = "frame" + i;

  svg.append("clipPath").attr("id", clipId).append("path").attr("d", plain(p.domain) + "Z");
  svg.append("clipPath").attr("id", frameId).append("rect").attr("width", pw).attr("height", ph);

  var inner = g.append("g").attr("clip-path", "url(#" + frameId + ")");
  var field = inner.append("g").attr("clip-path", "url(#" + clipId + ")");

  field.append("path").attr("d", plain(p.domain) + "Z").attr("fill", jet(p.base));
  field.selectAll("path.band")
      .data(p.bands)
    .enter().append("path")
      .attr("class", "band")
      .attr("d", bandPath)
      .attr("fill", function(d) { return jet(d[0]); });

  inner.selectAll("path.land")
      .data([landNorth, landLiaodong, landBay, landSouth])
    .enter().append("path")
      .attr("class", "land")
      .attr("d", function(d) { return plain(d) + "Z"; })
      .attr("fill", "#bdbdbd")
      .attr("stroke", "#222")
      .attr("stroke-width", 3);

  inner.append("path")
      .attr("d", plain(landLagoon) + "Z")
      .attr("fill", "#fff")
      .attr("stroke", "#222")
      .attr("stroke-width", 2.5);

  inner.selectAll("path.islet")
      .data(islets.concat([riverChannel]))
    .enter().append("path")
      .attr("class", "islet")
      .attr("d", plain)
      .attr("fill", "none")
      .attr("stroke", "#111")
      .attr("stroke-width", 4.5);

  inner.selectAll("circle.dot")
      .data(isletDots)
    .enter().append("circle")
      .attr("class", "dot")
      .attr("cx", function(d) { return lon(d[0]); })
      .attr("cy", function(d) { return lat(d[1]); })
      .attr("r", 2.8)
      .attr("fill", "#111");

  var tri = d3.symbol().type(d3.symbolTriangle).size(105);
  inner.selectAll("path.station")
      .data(p.stations)
    .enter().append("path")
      .attr("class", "station")
      .attr("d", tri)
      .attr("transform", function(d) { return "translate(" + lon(d[0]) + "," + lat(d[1]) + ")"; })
      .attr("fill", "#000");

  inner.append("path")
      .attr("d", d3.symbol().type(d3.symbolTriangle).size(190))
      .attr("transform", "translate(" + lon(riverMouth[0]) + "," + lat(riverMouth[1]) + ")")
      .attr("fill", "#f00");

  inner.append("text").attr("x", 10).attr("y", 399)
      .style("font-family", "'Open Sans'")
      .attr("font-size", 30).attr("fill", "#333")
      .text("Yellow River");
  inner.append("text").attr("x", 38).attr("y", 493)
      .style("font-family", "'Open Sans'")
      .attr("font-size", 42).attr("fill", "#333")
      .text(p.month);
  inner.append("text").attr("x", 843).attr("y", 178)
      .attr("text-anchor", "middle").attr("font-size", 76).attr("fill", "#000")
      .text(p.tag);

  // axes
  var bottom = g.append("g").attr("transform", "translate(0," + ph + ")")
      .call(d3.axisBottom(lon).tickValues(lonTicks).tickSizeInner(-8).tickSizeOuter(0).tickPadding(32))
      .call(styleAxis, 41, "#444");
  bottom.call(degreeLabel, "E");
  g.append("g")
      .call(d3.axisTop(lon).tickValues(lonTicks).tickFormat("").tickSizeInner(-8).tickSizeOuter(0))
      .call(styleAxis, 40, "#444");
  var left = g.append("g")
      .call(d3.axisLeft(lat).tickValues(latTicks).tickSizeInner(-10).tickSizeOuter(0).tickPadding(13))
      .call(styleAxis, 41, "#444");
  left.selectAll("text")
      .filter(function(d) { return d % 1 != 0; })
      .attr("font-size", 29)
      .text("30'");
  left.call(function(sel) {
    sel.selectAll("text").filter(function(d) { return d % 1 == 0; }).each(function(d) {
      var t = d3.select(this).text(null);
      t.append("tspan").text(d);
      t.append("tspan").attr("baseline-shift", "super").attr("font-size", 27).text("o");
      t.append("tspan").text("N");
    });
  });
  g.append("g").attr("transform", "translate(" + pw + ",0)")
      .call(d3.axisRight(lat).tickValues(latTicks).tickFormat("").tickSizeInner(-10).tickSizeOuter(0))
      .call(styleAxis, 40, "#444");
  g.selectAll("line").attr("stroke", "#222").attr("stroke-width", 3);
  g.selectAll(".domain").attr("stroke", "#222").attr("stroke-width", 3.5);
}
panels.forEach(drawPanel);

// ---- colourbar ----
var cb = svg.append("g").attr("transform", "translate(3465,812)");
var cbw = 74, cbh = 1194;
var cy = d3.scaleLinear().domain([22,32]).range([cbh,0]);
cb.selectAll("rect")
    .data(d3.range(22,32,0.025))
  .enter().append("rect")
    .attr("x", 0)
    .attr("width", cbw)
    .attr("y", function(d) { return cy(d + 0.025); })
    .attr("height", function(d) { return cy(d) - cy(d + 0.025) + 0.6; })
    .attr("fill", function(d) { return jet(d + 0.0125); });
cb.append("rect")
    .attr("width", cbw)
    .attr("height", cbh)
    .attr("fill", "none")
    .attr("stroke", "#333")
    .attr("stroke-width", 3);
cb.append("g").attr("transform", "translate(" + cbw + ",0)")
    .call(d3.axisRight(cy).tickValues(salinityTicks).tickSizeInner(-13).tickSizeOuter(0).tickPadding(24))
    .call(styleAxis, 46, "#333")
    .call(function(sel) {
      sel.select(".domain").remove();
      sel.selectAll("line").attr("stroke", "#333").attr("stroke-width", 3);
    });
cb.append("text")
    .attr("x", cbw/2).attr("y", -30)
    .attr("text-anchor", "middle")
    .attr("font-size", 45)
    .attr("fill", "#333")
    .text("psu");
</script>
</body>
</html>
